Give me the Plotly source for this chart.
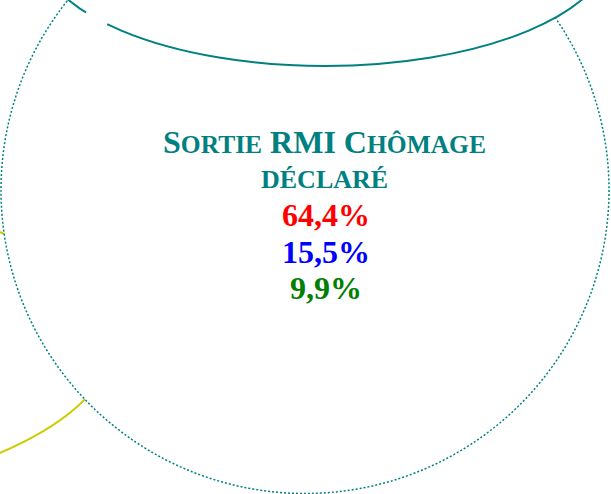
import plotly.graph_objects as go

W, H = 611, 494

# Text content
title_words = [("S", "ORTIE"), ("RMI", ""), ("C", "HÔMAGE")]
subtitle = "DÉCLARÉ"
values = [64.4, 15.5, 9.9]
value_colors = ["#FF0000", "#0000FF", "#008000"]
teal = "#008080"
yellow = "#CCCC00"

# Diagram geometry (pixel space): centre x, centre y, semi-axis x, semi-axis y
yellow_ellipse = [-381, 342.5, 493, 174]
dotted_circle = [305, 190, 304, 303.5]
solid_ellipse = [325, -55, 288, 121]
gap_segment = [86, 12.5, 107, 24.5]

# Line baselines, centres and font sizes
baselines = [152, 187, 225, 262, 298]
centres = [324, 324, 326, 326, 326]
big, small, num = 32, 25.5, 32

fig = go.Figure()
fig.add_trace(go.Scatter(x=[0, W], y=[0, H], mode="markers",
                         marker=dict(opacity=0), hoverinfo="skip", showlegend=False))

def ell(e, **kw):
    cx, cy, a, b = e
    return dict(type="circle", xref="x", yref="y", x0=cx - a, x1=cx + a,
                y0=cy - b, y1=cy + b, layer="above", **kw)

shapes = [
    ell(yellow_ellipse, line=dict(color=yellow, width=2), fillcolor="rgba(0,0,0,0)"),
    ell(dotted_circle, line=dict(color=teal, width=1.5, dash="2px,2px"), fillcolor="white"),
    ell(solid_ellipse, line=dict(color=teal, width=2), fillcolor="white"),
    dict(type="line", xref="x", yref="y", x0=gap_segment[0], y0=gap_segment[1],
         x1=gap_segment[2], y1=gap_segment[3], line=dict(color="white", width=5), layer="above"),
]

font_family = "Liberation Serif, Times New Roman, serif"

def sc(first, rest):
    s = first
    if rest:
        s += f"<span style='font-size:{small}px'>{rest}</span>"
    return s

line1 = " ".join(sc(f, r) for f, r in title_words)
lines = [(line1, teal, big, big), (subtitle, teal, 26, 26)]
for v, c in zip(values, value_colors):
    lines.append((f"{v:.1f}".replace(".", ",") + "%", c, num, num))

annotations = []
for (txt, col, fs, ref), bl, cx in zip(lines, baselines, centres):
    annotations.append(dict(
        x=cx, y=bl + 0.22 * ref + 3, xref="x", yref="y", text=f"<b>{txt}</b>",
        showarrow=False, xanchor="center", yanchor="bottom",
        font=dict(family=font_family, size=fs, color=col),
    ))

fig.update_layout(
    width=W, height=H, margin=dict(l=0, r=0, t=0, b=0),
    paper_bgcolor="white", plot_bgcolor="white",
    xaxis=dict(range=[0, W], visible=False, fixedrange=True),
    yaxis=dict(range=[H, 0], visible=False, fixedrange=True),
    shapes=shapes, annotations=annotations, showlegend=False,
)
fig.write_html("out.html", config={"displayModeBar": False},
               post_script="document.body.style.margin='0';document.body.style.overflow='hidden';")
